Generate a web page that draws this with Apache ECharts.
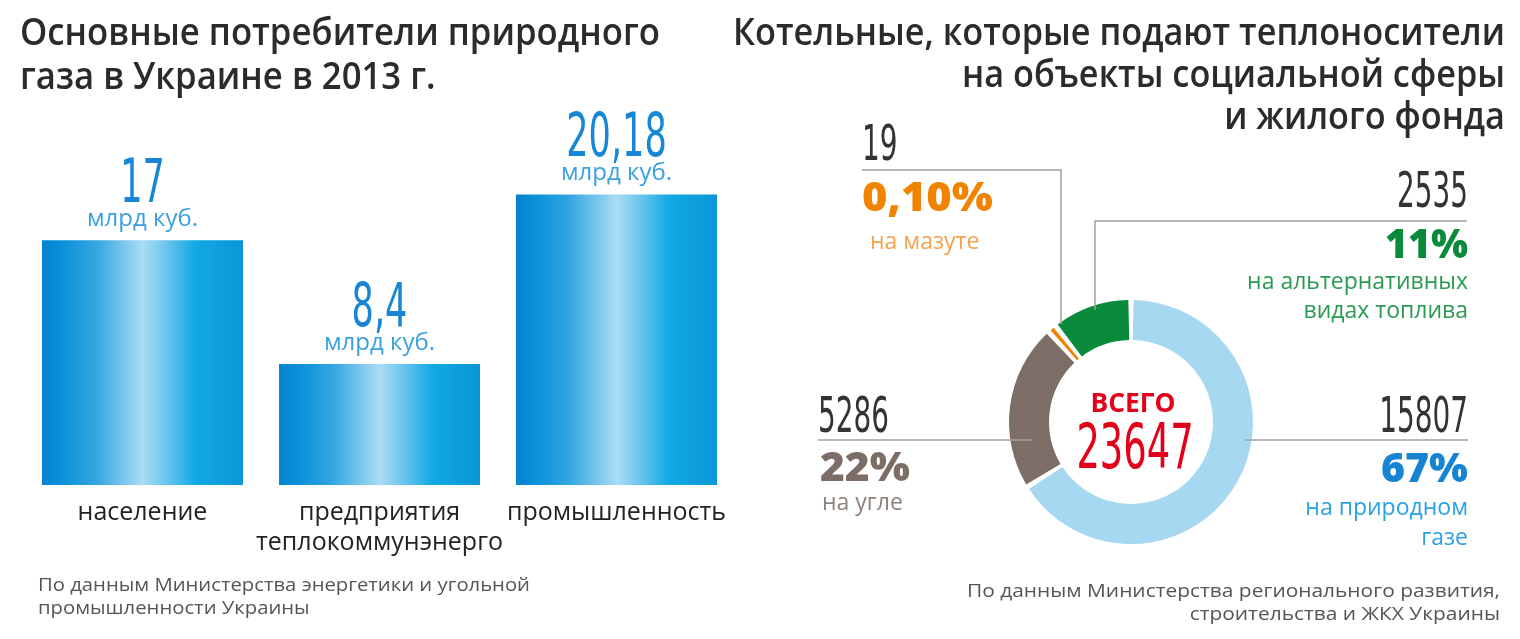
<!DOCTYPE html>
<html><head><meta charset="utf-8">
<script src="https://cdn.jsdelivr.net/npm/echarts@6/dist/echarts.min.js"></script>
<style>html,body{margin:0;padding:0;background:#fff}#main{width:1520px;height:639px}</style>
</head><body><div id="main"></div>
<script>
// ---- data ----
const categories = ['население', 'предприятия\nтеплокоммунэнерго', 'промышленность'];
const consumptionValues = [17, 8.4, 20.18];
const unitLabel = 'млрд куб.';
const boilerTypes = ['на природном\nгазе', 'на угле', 'на мазуте', 'на альтернативных\nвидах топлива'];
const boilerCounts = [15807, 5286, 19, 2535];
const boilerShares = ['67%', '22%', '0,10%', '11%'];
const totalLabel = 'ВСЕГО';
const leftTitle = ['Основные потребители природного', 'газа в Украине в 2013 г.'];
const rightTitle = ['Котельные, которые подают теплоносители', 'на объекты социальной сферы', 'и жилого фонда'];
const leftSource = ['По данным Министерства энергетики и угольной', 'промышленности Украины'];
const rightSource = ['По данным Министерства регионального развития,', 'строительства и ЖКХ Украины'];

const total = boilerCounts.reduce((a, b) => a + b, 0);
const ringColors = ['#a7d8f1', '#7c6d67', '#f08300', '#0a8b3b'];

// ---- helpers ----
const mctx = document.createElement('canvas').getContext('2d');
function measure(text, font) { mctx.font = font; return Math.max(...text.split('\n').map(l => mctx.measureText(l).width)); }
const SANS = '"Open Sans", "Noto Sans", sans-serif';
const NARROW = '"Liberation Sans Narrow", "DejaVu Sans Condensed", sans-serif';
function T(text, x, y, o) {
  const sx = o.w ? o.w / measure(o.fitText || text, o.font) : (o.sx || 1);
  const align = o.align || 'left';
  return {
    type: 'text', x, y, scaleX: sx, z: 100, silent: true,
    style: { text, font: o.font, fill: o.fill, align, textAlign: align,
      verticalAlign: 'middle', textVerticalAlign: 'middle', lineHeight: o.lh }
  };
}
function L(points) {
  return { type: 'polyline', z: 90, silent: true, shape: { points }, style: { stroke: '#a0a0a0', lineWidth: 1.5, fill: null } };
}

const titleFont = '600 37px ' + SANS;
const lSx = 640 / measure(leftTitle[0], titleFont);
const rSx = 772 / measure(rightTitle[0], titleFont);
const numFont = '50px ' + NARROW;
const pctFont = '800 40px ' + SANS;
const subFont = '23px ' + SANS;

const graphics = [
  T(leftTitle[0], 20, 34, { font: titleFont, fill: '#2b2b2b', sx: lSx }),
  T(leftTitle[1], 20, 78, { font: titleFont, fill: '#2b2b2b', sx: lSx }),
  T(rightTitle[0], 1505, 34, { font: titleFont, fill: '#2b2b2b', sx: rSx, align: 'right' }),
  T(rightTitle[1], 1505, 76, { font: titleFont, fill: '#2b2b2b', sx: rSx, align: 'right' }),
  T(rightTitle[2], 1505, 118, { font: titleFont, fill: '#2b2b2b', sx: rSx, align: 'right' }),
  T(leftSource.join('\n'), 38, 597, { font: '19px ' + SANS, fill: '#555', w: 492, fitText: leftSource[0], lh: 23 }),
  T(rightSource.join('\n'), 1500, 603, { font: '19px ' + SANS, fill: '#555', w: 533, fitText: rightSource[0], lh: 23, align: 'right' }),
  // callout lines
  L([[862, 170], [1061, 170], [1061, 324]]),
  L([[1467, 221], [1095, 221], [1095, 310]]),
  L([[818, 440], [1032, 440]]),
  L([[1245, 440], [1468, 440]]),
  // fuel oil (index 2)
  T(String(boilerCounts[2]), 862, 147, { font: numFont, fill: '#333', sx: 0.62 }),
  T(boilerShares[2], 862, 200, { font: pctFont, fill: ringColors[2], w: 131 }),
  T(boilerTypes[2], 870, 242, { font: subFont, fill: '#f3a250' }),
  // alternative (index 3)
  T(String(boilerCounts[3]), 1468, 194, { font: numFont, fill: '#333', sx: 0.62, align: 'right' }),
  T(boilerShares[3], 1468, 247, { font: pctFont, fill: ringColors[3], w: 83, align: 'right' }),
  T(boilerTypes[3], 1468, 297, { font: subFont, fill: '#2b9a52', align: 'right', lh: 29 }),
  // coal (index 1)
  T(String(boilerCounts[1]), 818, 419, { font: numFont, fill: '#333', sx: 0.62 }),
  T(boilerShares[1], 820, 470, { font: pctFont, fill: '#7c6d67', w: 90 }),
  T(boilerTypes[1], 822, 503, { font: subFont, fill: '#8c817c' }),
  // gas (index 0)
  T(String(boilerCounts[0]), 1468, 419, { font: numFont, fill: '#333', sx: 0.62, align: 'right' }),
  T(boilerShares[0], 1468, 471, { font: pctFont, fill: '#1684d3', w: 87, align: 'right' }),
  T(boilerTypes[0], 1468, 523, { font: subFont, fill: '#2aa2e2', align: 'right', lh: 30 }),
  // centre
  T(totalLabel, 1133, 404, { font: '700 27px ' + SANS, fill: '#e2001a', w: 85, align: 'center' }),
  T(String(total), 1135, 452, { font: '62px ' + NARROW, fill: '#e2001a', sx: 0.66, align: 'center' })
];

const barGradient = new echarts.graphic.LinearGradient(0, 0, 1, 0, [
  { offset: 0, color: '#0682cf' },
  { offset: 0.1, color: '#0a91d9' },
  { offset: 0.27, color: '#34a6e1' },
  { offset: 0.5, color: '#aadcf4' },
  { offset: 0.62, color: '#6ac5ee' },
  { offset: 0.76, color: '#12a9e4' },
  { offset: 1, color: '#0996d7' }
]);

const chart = echarts.init(document.getElementById('main'), null, { renderer: 'canvas' });
chart.setOption({
  animation: false,
  backgroundColor: '#fff',
  grid: { left: 24, top: 125, width: 711, height: 360, outerBoundsMode: 'none' },
  xAxis: {
    type: 'category', data: categories,
    axisLine: { show: false }, axisTick: { show: false }, splitLine: { show: false },
    axisLabel: { margin: 13, fontSize: 25, lineHeight: 30, color: '#222', fontFamily: SANS, interval: 0 }
  },
  yAxis: { type: 'value', min: 0, max: 25, show: false, splitLine: { show: false } },
  series: [
    {
      type: 'bar', data: consumptionValues, barWidth: 201, silent: true,
      itemStyle: { color: barGradient }
    },
    {
      type: 'custom', silent: true, z: 10,
      data: consumptionValues.map((v, i) => [i, v]),
      renderItem(params, api) {
        const p = api.coord([api.value(0), api.value(1)]);
        const v = consumptionValues[params.dataIndex];
        return {
          type: 'group', children: [
            { type: 'text', x: p[0], y: p[1] - 54, scaleX: 0.64,
              style: { text: String(v).replace('.', ','), font: '61px ' + NARROW, fill: '#1787d5',
                align: 'center', textAlign: 'center', verticalAlign: 'middle', textVerticalAlign: 'middle' } },
            { type: 'text', x: p[0], y: p[1] - 21,
              style: { text: unitLabel, font: '24px ' + SANS, fill: '#3aa0e0',
                align: 'center', textAlign: 'center', verticalAlign: 'middle', textVerticalAlign: 'middle' } }
          ]
        };
      }
    },
    {
      type: 'pie', center: [1131, 422], radius: [82, 122], startAngle: 90, clockwise: true,
      padAngle: 2.5, minAngle: 1.8, silent: true, label: { show: false }, labelLine: { show: false },
      emphasis: { disabled: true },
      data: boilerCounts.map((v, i) => ({ value: v, name: boilerTypes[i], itemStyle: { color: ringColors[i] } }))
    }
  ],
  graphic: graphics
});
</script></body></html>
